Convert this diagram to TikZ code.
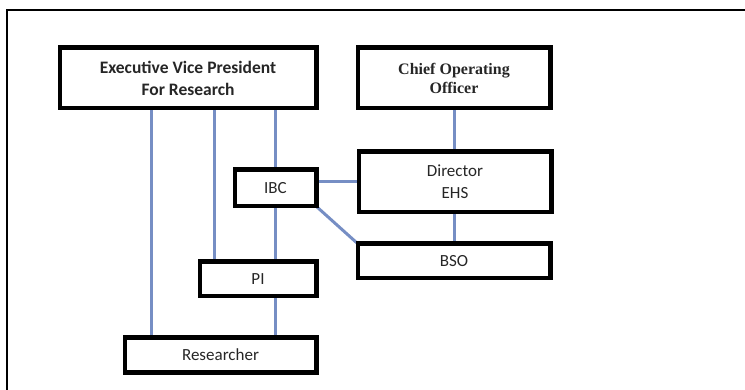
\documentclass[tikz,border=0pt]{standalone}
\usepackage{fontspec}
\setmainfont{Carlito}
\newfontfamily\timesbf{Liberation Serif}
\definecolor{linkblue}{RGB}{118,142,196}
\begin{document}
\begin{tikzpicture}[x=1pt,y=-1pt,
  box/.style={draw=black, line width=3pt, rectangle, inner sep=0pt, align=center, text=black!85},
  link/.style={draw=linkblue, line width=3pt},
  reg/.style={font=\fontsize{17}{22}\selectfont}]
\useasboundingbox (0,0) rectangle (745,390);
\begin{scope}
\clip (0,0) rectangle (745,390);
\draw[line width=1.2pt] (7,10) rectangle (770,420);
\end{scope}
\node[box, minimum width=255pt, minimum height=59pt, font=\fontsize{17.5}{22}\selectfont\bfseries] (evp) at (188,78) {Executive Vice President\\For Research};
\node[box, minimum width=191pt, minimum height=59pt, font=\fontsize{16}{19}\selectfont\timesbf\bfseries] (coo) at (454,78) {Chief Operating\\Officer};
\node[box, reg, minimum width=191pt, minimum height=59pt] (dir) at (455,182) {Director\\EHS};
\node[box, reg, minimum width=191pt, minimum height=33pt] (bso) at (454,261) {BSO};
\node[box, reg, minimum width=80pt, minimum height=35pt] (ibc) at (275.5,188) {IBC};
\node[box, reg, minimum width=115pt, minimum height=33pt] (pi) at (258,279) {PI};
\node[box, reg, minimum width=190pt, minimum height=33pt] (res) at (220.5,355) {Researcher};
% connectors
\draw[link] (evp.south -| 151,0) -- (res.north -| 151,0);
\draw[link] (evp.south -| 214,0) -- (pi.north -| 214,0);
\draw[link] (evp.south -| ibc.north) -- (ibc.north);
\draw[link] (ibc.south) -- (pi.north -| ibc.south);
\draw[link] (pi.south -| ibc.south) -- (res.north -| ibc.south);
\draw[link] (ibc.east |- dir.west) -- (dir.west);
\draw[link] (ibc.south east) -- (bso.north west);
\draw[link] (coo.south) -- (dir.north -| coo.south);
\draw[link] (dir.south -| bso.north) -- (bso.north);
% redraw box outlines on top of the connectors
\foreach \n in {evp,coo,dir,bso,ibc,pi,res}{
  \draw[line width=3pt] (\n.south west) rectangle (\n.north east);
}
\end{tikzpicture}
\end{document}
